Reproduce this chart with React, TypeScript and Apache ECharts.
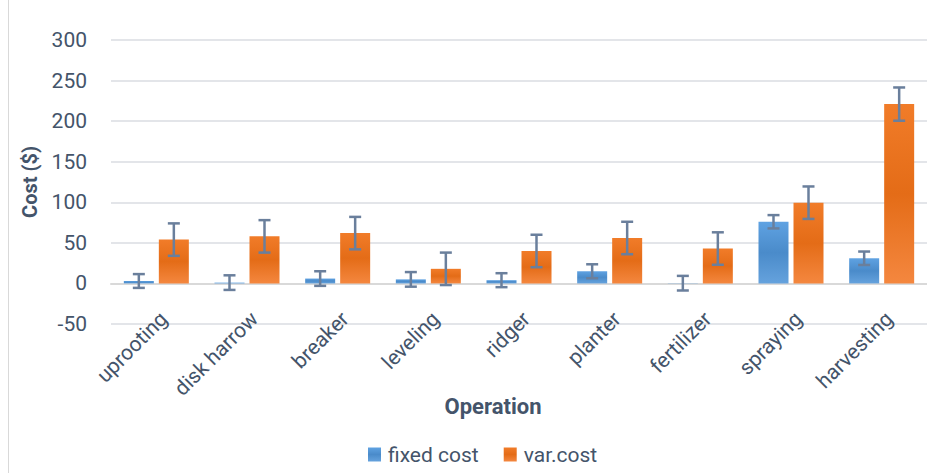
import React, { useEffect, useRef } from "react";
import * as echarts from "echarts";

const categories = ["uprooting", "disk harrow", "breaker", "leveling", "ridger", "planter", "fertilizer", "spraying", "harvesting"];
const fixedCost = [3, 1, 6, 5, 4, 15, 0.3, 76, 31];
const fixedErr = [8.5, 9, 9, 9, 8.6, 8.6, 9, 8.2, 8.3];
const varCost = [54, 58, 62, 18, 40, 56, 43, 99.5, 221];
const varErr = [20, 20, 20, 20, 20, 20, 20, 20, 20.5];
const yTicks = { min: -50, max: 300, interval: 50 };

const TEXT = "#44546A";
const FONT = "Roboto";
const ERR = "#6A7F9C";

const blueGrad = new echarts.graphic.LinearGradient(0, 0, 0, 1, [
  { offset: 0, color: "#5FA2E2" },
  { offset: 0.5, color: "#4A8BCA" },
  { offset: 1, color: "#65A2DD" },
]);
const orangeGrad = new echarts.graphic.LinearGradient(0, 0, 0, 1, [
  { offset: 0, color: "#F17C29" },
  { offset: 0.5, color: "#E46C17" },
  { offset: 1, color: "#F4873F" },
]);

const BAR_W = 30;
const BAR_GAP = 5;

function errSeries(vals: number[], errs: number[], offset: number) {
  return {
    type: "custom",
    silent: true,
    z: 10,
    encode: { x: 0, y: [1, 2] },
    data: vals.map((v, i) => [i, v - errs[i], v + errs[i]]),
    renderItem: (params: any, api: any) => {
      const i = api.value(0);
      const lo = api.coord([i, api.value(1)]);
      const hi = api.coord([i, api.value(2)]);
      const x = hi[0] + offset;
      const half = 6;
      const style = { stroke: ERR, lineWidth: 2.5 };
      return {
        type: "group",
        children: [
          { type: "line", shape: { x1: x, y1: hi[1], x2: x, y2: lo[1] }, style },
          { type: "line", shape: { x1: x - half, y1: hi[1], x2: x + half, y2: hi[1] }, style },
          { type: "line", shape: { x1: x - half, y1: lo[1], x2: x + half, y2: lo[1] }, style },
        ],
      };
    },
  };
}

export default function App() {
  const ref = useRef<HTMLDivElement>(null);
  useEffect(() => {
    if (!ref.current) return;
    const chart = echarts.init(ref.current, null, { renderer: "svg" });
    const off = (BAR_W + BAR_GAP) / 2;
    chart.setOption({
      animation: false,
      backgroundColor: "#FFFFFF",
      textStyle: { fontFamily: FONT },
      grid: { left: 111, top: 40, bottom: 149, right: -12, containLabel: false },
      legend: {
        data: ["fixed cost", "var.cost"],
        left: 368,
        top: 444,
        padding: 0,
        icon: "rect",
        itemWidth: 13,
        itemHeight: 14,
        itemGap: 25,
        textStyle: { fontSize: 21, color: TEXT, fontFamily: FONT, padding: [0, 0, 0, 2] },
      },
      xAxis: {
        type: "category",
        data: categories,
        axisLine: { onZero: true, lineStyle: { color: "#D9D9D9", width: 2 } },
        axisTick: { show: false },
        axisLabel: {
          rotate: 45,
          interval: 0,
          fontSize: 21,
          color: TEXT,
          margin: -16,
          verticalAlign: "top",
          fontFamily: FONT,
        },
      },
      yAxis: {
        type: "value",
        min: yTicks.min,
        max: yTicks.max,
        interval: yTicks.interval,
        name: "Cost ($)",
        nameLocation: "middle",
        nameGap: 71,
        nameTextStyle: { fontSize: 20, fontWeight: "bold", color: TEXT, fontFamily: FONT },
        axisLine: { show: false },
        axisTick: { show: false },
        axisLabel: { fontSize: 21, color: TEXT, margin: 24, fontFamily: FONT },
        splitLine: { lineStyle: { color: "#DADDE2", width: 1.5 } },
      },
      graphic: [
        { type: "line", shape: { x1: 8.5, y1: 0, x2: 8.5, y2: 473 }, style: { stroke: "#D9D9D9", lineWidth: 1 } },
        {
          type: "text",
          x: 493,
          y: 406,
          style: { text: "Operation", fill: TEXT, font: `bold 22px ${FONT}`, textAlign: "center", textVerticalAlign: "middle" },
        },
      ],
      series: [
        {
          name: "fixed cost",
          type: "bar",
          data: fixedCost,
          barWidth: BAR_W,
          barGap: `${(BAR_GAP / BAR_W) * 100}%`,
          itemStyle: { color: blueGrad },
        },
        {
          name: "var.cost",
          type: "bar",
          data: varCost,
          barWidth: BAR_W,
          itemStyle: { color: orangeGrad },
        },
        errSeries(fixedCost, fixedErr, -off),
        errSeries(varCost, varErr, off),
      ],
    });
    return () => chart.dispose();
  }, []);
  return <div ref={ref} style={{ position: "fixed", left: 0, top: 0, width: 927, height: 473 }} />;
}
